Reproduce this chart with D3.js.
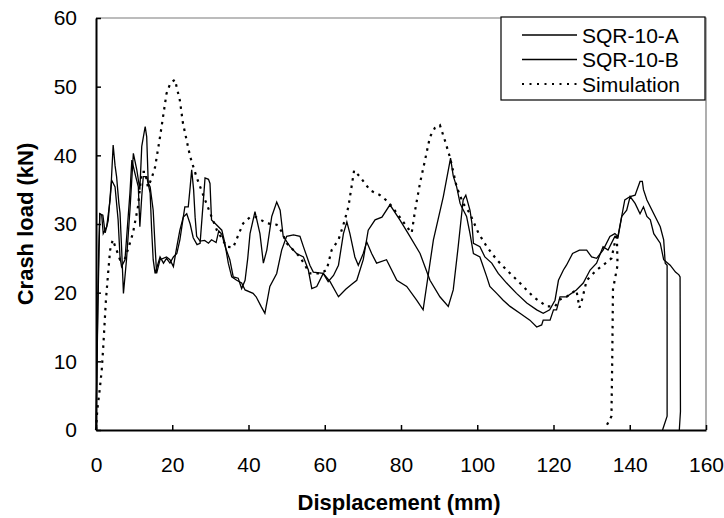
<!DOCTYPE html>
<html>
  <head>
    <meta charset="utf-8">
    <script src="https://d3js.org/d3.v7.min.js"></script>
    <style>
      body { margin: 0; background: #fff; }
      svg { font-family: "Liberation Sans", Arial, sans-serif; }
    </style>
  </head>
  <body>
    <script>
      // series names (legend order)
      const seriesNames = ["SQR-10-A", "SQR-10-B", "Simulation"]
      const xTicks = [0, 20, 40, 60, 80, 100, 120, 140, 160]
      const yTicks = [0, 10, 20, 30, 40, 50, 60]

      // [displacement (mm), crash load (kN)]
      const sqrA = [[0,0],[0.5,18],[1.0,31.5],[1.5,31.3],[1.9,28.6],[2.8,29.6],[3.7,33.5],[4.1,36.4],[5,35.4],[5.8,30.6],
        [6.3,25.2],[6.7,23.8],[7.6,24.8],[8.9,34.5],[9.4,39.3],[10.2,37.4],[11.1,35.4],[11.5,29.6],[12,34],[12.4,36.9],
        [13.3,36.9],[14.2,34.5],[14.6,29.1],[15,24.8],[15.5,22.8],[16.8,25.2],[17.7,24.3],[18.5,25],[19.4,24.3],[20.3,25.2],
        [21.2,25.7],[22,27.7],[23.3,32.5],[24.2,32.5],[24.7,35.4],[25.1,37.9],[25.6,35],[26,31],[26.4,28.2],[27.3,27.5],
        [28.5,27.6],[29.5,27.2],[30.3,27.7],[31.5,27.3],[32.2,29],[33,28.5],[34,26.5],[35.1,24.8],[36,22.3],[37.3,22.1],
        [38.2,20.6],[39.1,21.8],[39.8,25],[40.4,28.6],[41.7,31.8],[43,28.6],[43.9,24.3],[44.8,26.2],[46.1,31.1],[47.4,33.2],
        [48.3,32],[49.1,28.2],[50.9,26.7],[52.6,25.7],[54.4,25.2],[55.7,23.3],[56.6,20.6],[57.9,20.9],[59.6,22.8],[60.9,21.6],
        [62.3,22.5],[63.6,24],[64.9,28.6],[65.8,30.3],[66.6,28.6],[67.9,25.2],[68.8,24],[70.1,25.7],[71,27.4],[72.3,25.7],
        [73.6,24.3],[76.2,24.8],[78.9,21.8],[81.5,20.9],[84.1,18.9],[85.8,17.5],[88.5,27.7],[91.1,34],[93,39.6],[93.7,37],
        [94.6,35.4],[95.5,33],[95.9,32.5],[97.2,31.1],[98.1,28.6],[99,25.7],[100.7,25.2],[102.5,22.3],[103.3,20.9],[105.1,19.9],
        [106.8,18.9],[108.6,18],[111.2,17],[113.8,16],[115.6,15],[116.9,15.3],[117.3,16],[119.1,16],[120,17.5],[120.8,17.5],
        [121.7,19.4],[123.4,19.4],[126,20.4],[127.8,21.4],[129.6,23.3],[131.3,24.3],[133,26.7],[134.3,26.2],[136.1,28.2],[136.9,28],
        [137.9,31.1],[139.2,32],[140.1,34],[141.4,33],[142.7,31.5],[143.6,32.5],[144.5,31.1],[145.4,30.6],[146.3,28.6],[148,27.2],
        [148.9,24.8],[150.6,24],[152,23],[152.9,22.6],[153.2,22.3],[153.3,2.7],[153,0]]

      const sqrB = [[0,0],[0.3,12],[0.7,26],[1.0,31.5],[1.8,31.3],[2.4,28.7],[3.2,30.5],[4.0,36],[4.5,41.5],[5.0,38.5],
        [5.4,36.9],[6.0,33],[6.3,31.6],[6.7,26.7],[7.2,19.9],[8.0,24.8],[8.9,32],[9.8,40.3],[10.7,37.9],[11.5,35],
        [12.0,41.3],[12.9,44.2],[13.3,42.7],[13.7,36],[14.2,35.4],[15,32],[15.5,26.7],[15.9,22.8],[16.8,24.8],[18.5,25.2],
        [19.4,24.8],[20.3,23.8],[21.2,26.7],[22,29.1],[22.9,31],[23.8,31.5],[24.7,30],[25.5,28],[26.5,27],[27.3,27.2],
        [28.1,33],[28.6,36.7],[29.5,36.5],[29.9,35.9],[30.3,30.6],[31.2,30.1],[33,29.1],[33.8,27.2],[34.7,24.3],[35.6,22.3],
        [36.9,21.8],[38.2,21.4],[39.1,20.4],[41.2,19.9],[42,19.4],[43.3,18],[44.3,17],[45.6,20.9],[47.4,22.8],[48.7,26.2],
        [50,28.2],[51.8,28.4],[53.5,28.2],[54.4,26.7],[56.1,24],[57,23],[59.6,22.8],[61.4,21.6],[63.6,19.4],[65.5,20.5],
        [67,21.2],[68.4,21.8],[70.1,24.8],[71.4,29.1],[73.2,30.6],[75,31],[77.1,32.8],[79.7,30.6],[81.9,28.6],[85,25.7],
        [87.6,21.8],[90.2,19.4],[92.4,18],[93.7,20.4],[95,26.7],[96.3,33.5],[97,34.2],[98.1,32],[98.6,30.1],[99,27.2],
        [100.7,26.7],[102,25.2],[103.8,24.3],[105.5,22.8],[107.7,21.4],[110.3,19.9],[113,18.5],[115.6,17.5],[117.3,17],[119,17.5],
        [120.4,18.9],[121.3,21.8],[122.6,23.3],[123.4,24],[125,25.7],[126.8,26.2],[128.7,26.2],[130,25.2],[131.3,25],[133,26.2],
        [134.8,28.2],[136.1,28.6],[136.9,28.2],[138.7,33.5],[140.1,34],[141.4,34.2],[142.7,36.2],[143.3,36.2],[143.6,35],[144.5,33.5],
        [146.3,31.5],[148,29.6],[148.9,27.7],[149.3,24.3],[149.8,24],[149.8,2],[148.6,0]]

      const simulation = [[0,0],[0.35,3],[1.0,6],[1.5,8.7],[1.9,12.1],[2.6,18.9],[3.2,23],[3.7,26.2],[4.4,27.7],[5.2,26.5],
        [6.3,24.8],[7.5,24.8],[8.5,26.5],[9.7,28.7],[11,32.5],[12,37.6],[12.9,37.6],[13.6,35.4],[14.5,36.5],[15.5,38.3],
        [16.8,42.7],[18.5,49],[19.5,50.5],[20.7,51],[22,48],[22.8,44.7],[24.7,39.8],[26.4,36.8],[28.6,33.5],[31.7,29.1],
        [34.3,26.7],[36,26.6],[38.6,30.1],[40.4,31],[42,31],[44.8,30.1],[47.4,29.9],[48.7,28.9],[50,27.2],[53.5,25.2],
        [56.1,22.8],[58.8,22.8],[60.5,23.3],[61.8,26.2],[63.6,27.7],[64.9,29.9],[66.2,32.5],[67.7,37.8],[69.2,36.9],[71.9,34.9],
        [74.5,34.2],[76.7,33.2],[78.9,31.6],[81.5,29.6],[82.8,28.7],[83.7,32],[85,36],[86.3,39.3],[87.6,42.7],[88.9,44],
        [90.2,44.4],[91.5,42.2],[92.9,39.6],[94.6,35.4],[96.3,33],[98,31.6],[100.3,28.7],[102.5,26.7],[105.1,24.8],[107.7,23.3],
        [111.2,21.4],[114.7,19.4],[118.2,18],[120.4,18],[121.7,19],[123.4,19.4],[126,20.4],[126.8,17.8],[127.5,19],[128.7,21.8],
        [131.3,23.3],[133,24],[135.2,25],[136.6,28.6],[136.8,24],[135.6,20.5],[135.4,10],[135.2,2],[133.8,0.5]]

      const W = 724, H = 518
      const m = { left: 96, top: 18, right: 18, bottom: 88 }
      const pw = W - m.left - m.right, ph = H - m.top - m.bottom

      const svg = d3.select("body").append("svg")
        .attr("width", W)
        .attr("height", H)

      const x = d3.scaleLinear().domain([0, 160]).range([m.left, m.left + pw])
      const y = d3.scaleLinear().domain([0, 60]).range([m.top + ph, m.top])

      // frame: grey top and right
      svg.append("path")
        .attr("d", `M${x(0)},${y(60)}H${x(160)}V${y(0)}`)
        .attr("fill", "none")
        .attr("stroke", "#7a7a7a")
        .attr("stroke-width", 1.2)

      const xAxis = svg.append("g")
        .attr("transform", "translate(0," + y(0) + ")")
        .call(d3.axisBottom(x).tickValues(xTicks).tickSizeInner(-5).tickSizeOuter(0))
      xAxis.selectAll("text")
        .attr("y", 27).attr("dy", "0.71em")
        .attr("font-size", 21).attr("font-family", null).attr("fill", "#000")

      const yAxis = svg.append("g")
        .attr("transform", "translate(" + x(0) + ",0)")
        .call(d3.axisLeft(y).tickValues(yTicks).tickSizeInner(-5).tickSizeOuter(0))
      yAxis.selectAll("text")
        .attr("x", -19)
        .attr("font-size", 21).attr("font-family", null).attr("fill", "#000")

      svg.selectAll(".domain").attr("stroke", "#000").attr("stroke-width", 2)
      svg.selectAll(".tick line").attr("stroke", "#000").attr("stroke-width", 1.5)

      const line = d3.line().x(d => x(d[0])).y(d => y(d[1]))

      svg.append("path").datum(sqrA)
        .attr("d", line).attr("fill", "none").attr("stroke", "#000").attr("stroke-width", 1.3)
      svg.append("path").datum(sqrB)
        .attr("d", line).attr("fill", "none").attr("stroke", "#000").attr("stroke-width", 1.3)
      svg.append("path").datum(simulation)
        .attr("d", line).attr("fill", "none").attr("stroke", "#000")
        .attr("stroke-width", 2.2).attr("stroke-dasharray", "2.5,5")

      // axis titles
      svg.append("text")
        .attr("x", 399).attr("y", 510)
        .attr("text-anchor", "middle")
        .attr("font-size", 22).attr("font-weight", "bold")
        .text("Displacement (mm)")
      svg.append("text")
        .attr("transform", "translate(33," + (m.top + ph / 2) + ") rotate(-90)")
        .attr("text-anchor", "middle")
        .attr("font-size", 22).attr("font-weight", "bold")
        .text("Crash load (kN)")

      // legend
      const lg = svg.append("g").attr("transform", "translate(501,17)")
      lg.append("rect")
        .attr("width", 204).attr("height", 83)
        .attr("fill", "#fff").attr("stroke", "#000").attr("stroke-width", 1.2)
      seriesNames.forEach((name, i) => {
        const ly = 18 + i * 24.5
        lg.append("line")
          .attr("x1", 21).attr("x2", 76).attr("y1", ly).attr("y2", ly)
          .attr("stroke", "#000")
          .attr("stroke-width", i == 2 ? 2 : 1.3)
          .attr("stroke-dasharray", i == 2 ? "2,5.5" : null)
        lg.append("text")
          .attr("x", 81).attr("y", ly + 7.5)
          .attr("font-size", 21)
          .text(name)
      })
    </script>
  </body>
</html>
